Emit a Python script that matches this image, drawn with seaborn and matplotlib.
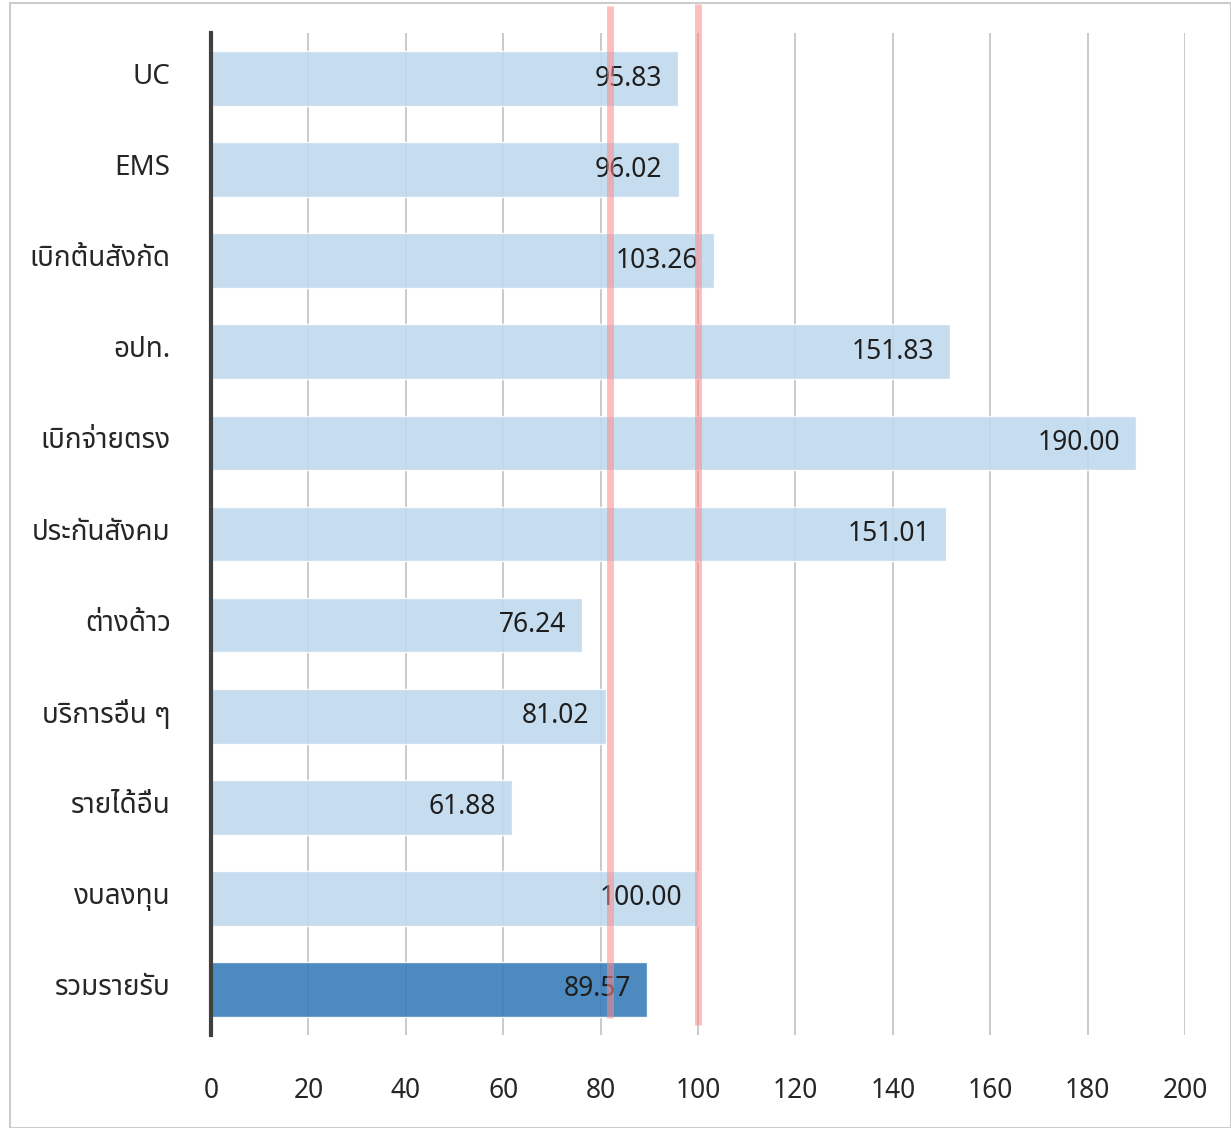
import matplotlib
matplotlib.use("Agg")
import matplotlib.pyplot as plt
import matplotlib.transforms as mtransforms
import seaborn as sns
import pandas as pd

categories = ["UC", "EMS", "เบิกต้นสังกัด", "อปท.", "เบิกจ่ายตรง", "ประกันสังคม",
              "ต่างด้าว", "บริการอื่น ๆ", "รายได้อื่น", "งบลงทุน", "รวมรายรับ"]
values = [95.83, 96.02, 103.26, 151.83, 190.00, 151.01, 76.24, 81.02, 61.88, 100.00, 89.57]
ref_lines = [82, 100]
x_ticks = [0, 20, 40, 60, 80, 100, 120, 140, 160, 180, 200]

sns.set_theme(style="white")
plt.rcParams['font.family'] = ['Noto Sans', 'Noto Sans Thai', 'Sarabun', 'DejaVu Sans']

df = pd.DataFrame({"cat": categories, "val": values})
palette = ["#c0d9ee"] * (len(categories) - 1) + ["#397db9"]

fig = plt.figure(figsize=(12.31, 11.28), dpi=100)
ax = fig.add_axes([211/1231, 1 - 1035/1128, 974/1231, (1035 - 33)/1128])
sns.barplot(data=df, y="cat", x="val", hue="cat", palette=palette, legend=False,
            orient="h", width=0.6, ax=ax, alpha=0.9, saturation=1, zorder=2)
ax.set_xlim(0, 200)
ax.set_xticks(x_ticks)
ax.set_xlabel("")
ax.set_ylabel("")
ax.grid(axis="x", color="#cacaca", linewidth=1.4, zorder=0)
ax.set_axisbelow(True)
for s in ["top", "right", "bottom"]:
    ax.spines[s].set_visible(False)
ax.spines["left"].set_color("#404040")
ax.spines["left"].set_linewidth(3)
ax.spines["left"].set_zorder(5)
ax.tick_params(axis="y", length=0, pad=29, labelsize=20, labelcolor="#262626")
ax.tick_params(axis="x", length=0, pad=30, labelsize=19, labelcolor="#262626")

offset = mtransforms.ScaledTranslation(0, 5 / 100, fig.dpi_scale_trans)
for lbl in ax.get_yticklabels():
    lbl.set_transform(lbl.get_transform() + offset)

for i, v in enumerate(values):
    ax.annotate(f"{v:.2f}", xy=(v, i), xytext=(-16, 0), textcoords="offset pixels",
                ha="right", va="center", fontsize=19, color="#1e1e1e", zorder=4)

ax.axvline(ref_lines[0], ymin=0.017, ymax=1.027, color="#ff8a8a", alpha=0.55, linewidth=5,
           clip_on=False, zorder=6, solid_capstyle="butt")
ax.axvline(ref_lines[1], ymin=0.01, ymax=1.029, color="#ff8a8a", alpha=0.55, linewidth=5,
           clip_on=False, zorder=6, solid_capstyle="butt")

fig.patches.append(plt.Rectangle((10/1231, 0), 1 - 10/1231, 1 - 3/1128, transform=fig.transFigure,
                                 fill=False, edgecolor="#cccccc", linewidth=1.5))
fig.savefig("out.png", dpi=100)
